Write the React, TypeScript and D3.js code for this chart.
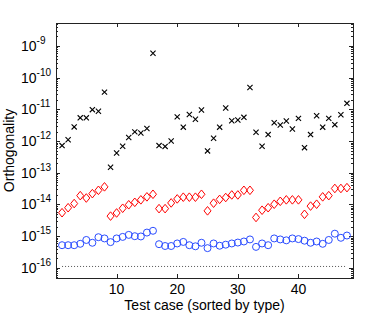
import React, { useEffect, useRef } from 'react';
import * as d3 from 'd3';

// test case index (1..48), sorted by type
const testCases = d3.range(1, 49);

// black crosses
const crossValues = [
  7.2e-13, 1.1e-12, 2.8e-12, 5.4e-12, 5.4e-12, 9.8e-12, 8.7e-12, 3.5e-11,
  1.5e-13, 4.2e-13, 6.9e-13, 1.3e-12, 1.95e-12, 1.8e-12, 2.5e-12, 5.9e-10,
  7.2e-13, 6.8e-13, 1.0e-12, 5.8e-12, 2.75e-12, 6.9e-12, 4.9e-12, 9.5e-12,
  4.9e-13, 1.23e-12, 2.75e-12, 1.1e-11, 4.4e-12, 4.6e-12, 5.6e-12, 4.9e-11,
  1.9e-12, 6.9e-13, 1.6e-12, 3.8e-12, 3.2e-12, 4.3e-12, 2.4e-12, 5.2e-12,
  6.2e-13, 1.6e-12, 6.3e-12, 2.75e-12, 5.2e-12, 3.3e-12, 6.8e-12, 1.55e-11,
];

// red diamonds
const diamondValues = [
  5.5e-15, 7.9e-15, 1.07e-14, 1.9e-14, 1.6e-14, 2.2e-14, 2.8e-14, 3.6e-14,
  4.3e-15, 5.4e-15, 7.6e-15, 9.8e-15, 1.17e-14, 1.4e-14, 1.74e-14, 2.1e-14,
  7.4e-15, 7.4e-15, 1.12e-14, 1.5e-14, 1.7e-14, 1.7e-14, 1.7e-14, 2.1e-14,
  6.3e-15, 1.1e-14, 1.45e-14, 1.66e-14, 2.0e-14, 2.0e-14, 2.8e-14, 2.8e-14,
  3.9e-15, 6.6e-15, 7.9e-15, 1.02e-14, 1.26e-14, 1.4e-14, 1.4e-14, 1.4e-14,
  4.9e-15, 8.9e-15, 1.02e-14, 1.74e-14, 1.9e-14, 3.2e-14, 3.2e-14, 3.4e-14,
];

// blue circles
const circleValues = [
  5.2e-16, 5.2e-16, 5.2e-16, 5.75e-16, 7.6e-16, 6.2e-16, 9.3e-16, 8.5e-16,
  6.5e-16, 8.5e-16, 9.5e-16, 1.1e-15, 1.0e-15, 9.8e-16, 1.3e-15, 1.48e-15,
  5.6e-16, 4.9e-16, 4.9e-16, 5.9e-16, 6.6e-16, 5.2e-16, 4.8e-16, 6.2e-16,
  4.2e-16, 5.9e-16, 5.0e-16, 5.4e-16, 5.9e-16, 6.3e-16, 6.8e-16, 7.9e-16,
  4.6e-16, 5.9e-16, 5.2e-16, 8.5e-16, 7.9e-16, 7.4e-16, 8.5e-16, 8.1e-16,
  7.2e-16, 6.2e-16, 6.8e-16, 5.75e-16, 7.6e-16, 1.2e-15, 8.9e-16, 1.05e-15,
];

// machine epsilon reference line
const epsValue = 1.11e-16;
const epsRange = [1, 48];

const xTickValues = [10, 20, 30, 40];
const yTickPowers = [-16, -15, -14, -13, -12, -11, -10, -9];

const App: React.FC = () => {
  const svgRef = useRef<SVGSVGElement>(null);

  useEffect(() => {
    if (!svgRef.current) return;
    const W = 390, H = 314;
    const margin = { top: 23, right: 37, bottom: 36, left: 56 };
    const width = W - margin.left - margin.right;
    const height = H - margin.top - margin.bottom;

    const svg = d3.select(svgRef.current);
    svg.selectAll('*').remove();

    const font = "'Liberation Sans', Arial, sans-serif";

    const x = d3.scaleLinear().domain([0, 49]).range([0, width]);
    const y = d3.scaleLog().domain([4.8e-17, 5.3e-9]).range([height, 0]);

    const g = svg.append('g').attr('transform', `translate(${margin.left},${margin.top})`);

    g.append('rect')
      .attr('width', width).attr('height', height)
      .attr('fill', 'white');

    // eps dotted line
    g.append('line')
      .attr('x1', x(epsRange[0])).attr('x2', x(epsRange[1]))
      .attr('y1', y(epsValue)).attr('y2', y(epsValue))
      .attr('stroke', '#555')
      .attr('stroke-width', 1)
      .attr('stroke-dasharray', '1,2');

    // ticks (inward, on all sides)
    const minor = y.ticks().filter(v => v >= 4.8e-17 && v <= 5.3e-9);
    const ticks = g.append('g').attr('stroke', '#222').attr('stroke-width', 1).attr('shape-rendering', 'crispEdges');
    minor.forEach(v => {
      const isMajor = Math.abs(Math.log10(v) - Math.round(Math.log10(v))) < 1e-6;
      const len = isMajor ? 4 : 2;
      const yy = Math.round(y(v)) + 0.5;
      ticks.append('line').attr('x1', 0).attr('x2', len).attr('y1', yy).attr('y2', yy);
      ticks.append('line').attr('x1', width).attr('x2', width - len).attr('y1', yy).attr('y2', yy);
    });
    xTickValues.forEach(v => {
      const xx = Math.round(x(v)) + 0.5;
      ticks.append('line').attr('x1', xx).attr('x2', xx).attr('y1', height).attr('y2', height - 4);
      ticks.append('line').attr('x1', xx).attr('x2', xx).attr('y1', 0).attr('y2', 4);
    });

    // frame
    g.append('rect')
      .attr('x', 0.5).attr('y', 0.5)
      .attr('width', width).attr('height', height)
      .attr('fill', 'none')
      .attr('stroke', '#222')
      .attr('stroke-width', 1)
      .attr('shape-rendering', 'crispEdges');

    // markers
    const crossPath = 'M-2.6,-2.6L2.6,2.6M-2.6,2.6L2.6,-2.6';
    g.append('g').selectAll('path')
      .data(testCases)
      .enter().append('path')
      .attr('transform', d => `translate(${x(d)},${y(crossValues[d - 1])})`)
      .attr('d', crossPath)
      .attr('stroke', 'black')
      .attr('stroke-width', 1.1)
      .attr('fill', 'none');

    const diamondPath = 'M0,-4.3L3.5,0L0,4.3L-3.5,0Z';
    g.append('g').selectAll('path')
      .data(testCases)
      .enter().append('path')
      .attr('transform', d => `translate(${x(d)},${y(diamondValues[d - 1])})`)
      .attr('d', diamondPath)
      .attr('stroke', '#ff0000')
      .attr('stroke-width', 1)
      .attr('fill', 'none');

    g.append('g').selectAll('circle')
      .data(testCases)
      .enter().append('circle')
      .attr('cx', d => x(d))
      .attr('cy', d => y(circleValues[d - 1]))
      .attr('r', 3.5)
      .attr('stroke', '#2a4cff')
      .attr('stroke-width', 1)
      .attr('fill', 'none');

    // x tick labels
    svg.append('g').selectAll('text')
      .data(xTickValues)
      .enter().append('text')
      .attr('x', d => margin.left + x(d))
      .attr('y', margin.top + height + 16)
      .attr('text-anchor', 'middle')
      .style('font-family', font)
      .style('font-size', '14px')
      .text(d => String(d));

    // y tick labels
    const yl = svg.append('g');
    yTickPowers.forEach(p => {
      const t = yl.append('text')
        .attr('x', 21)
        .attr('y', margin.top + y(Math.pow(10, p)) + 5)
        .style('font-family', font)
        .style('font-size', '14px');
      t.append('tspan').text('10');
      t.append('tspan').attr('dy', -7).style('font-size', '10px').text(String(p));
    });

    // axis titles
    svg.append('text')
      .attr('x', margin.left + width / 2)
      .attr('y', margin.top + height + 32)
      .attr('text-anchor', 'middle')
      .style('font-family', font)
      .style('font-size', '14px')
      .text('Test case (sorted by type)');

    svg.append('text')
      .attr('transform', `translate(14,${margin.top + height / 2}) rotate(-90)`)
      .attr('text-anchor', 'middle')
      .style('font-family', font)
      .style('font-size', '14px')
      .text('Orthogonality');
  }, []);

  return (
    <svg
      ref={svgRef}
      width={390}
      height={314}
      style={{ position: 'absolute', left: 0, top: 0, background: 'white' }}
    />
  );
};

export default App;
